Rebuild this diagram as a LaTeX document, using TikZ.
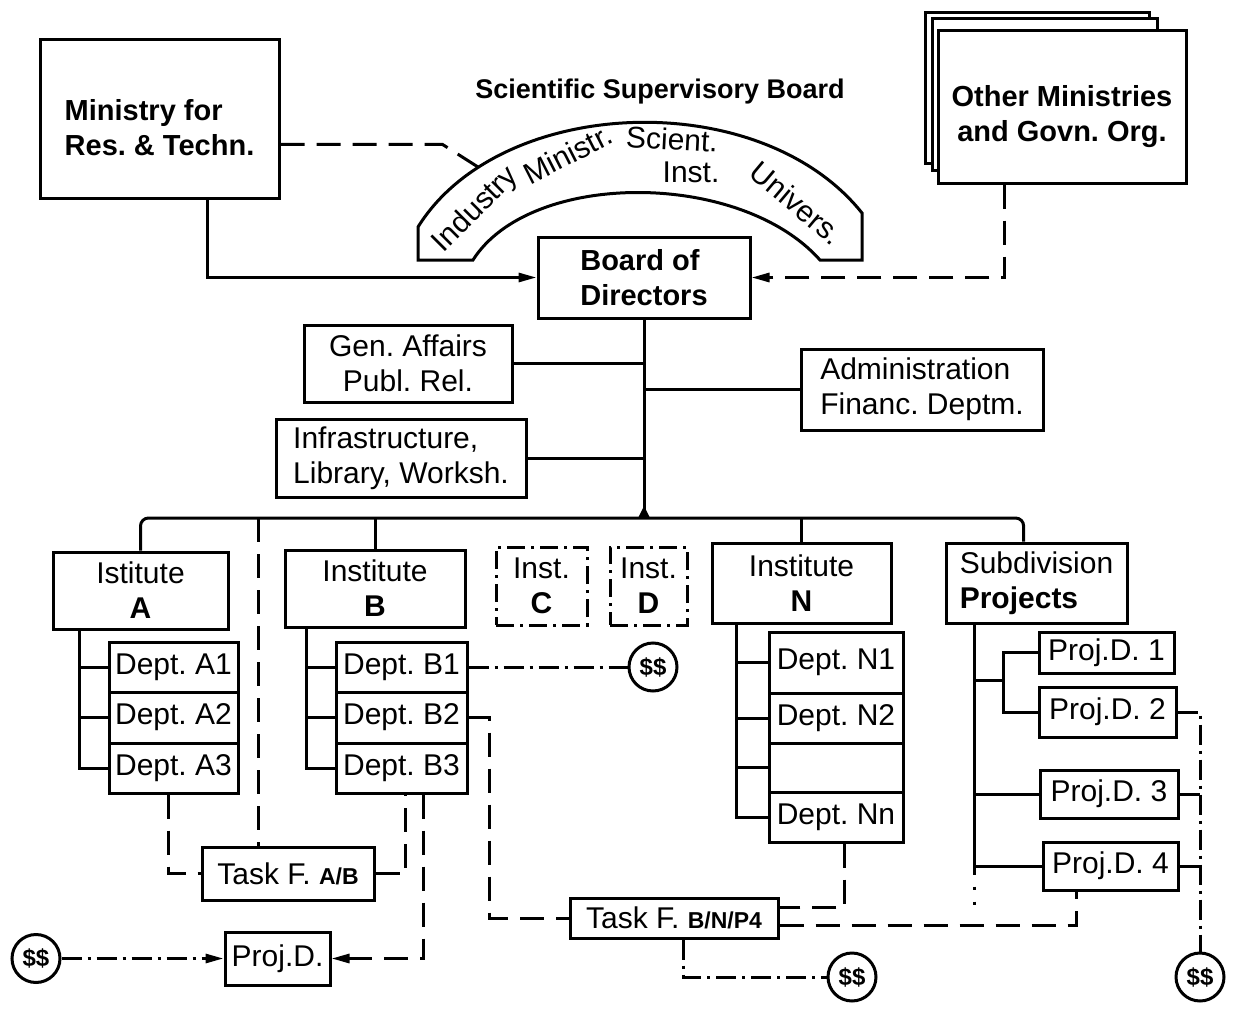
\documentclass[tikz,border=0pt]{standalone}
\usepackage{fontspec}
\setmainfont{Liberation Sans}
\usetikzlibrary{calc,arrows.meta}
\newcommand{\nf}{\fontsize{15}{17.5}\selectfont\frenchspacing}
\newcommand{\bnf}{\fontsize{14.5}{17.5}\selectfont\bfseries\frenchspacing}
\newcommand{\sbf}[1]{{\fontsize{11.5}{12}\selectfont\bfseries #1}}

\begin{document}
\begin{tikzpicture}[x=0.5pt,y=-0.5pt,line width=1.5pt,
	org/.style={draw,inner sep=0pt,align=center,font=\nf},
	ext/.style={org,dash pattern=on 9pt off 3pt on 1.5pt off 3pt},
	money/.style={draw,circle,inner sep=0pt,minimum size=24pt,font=\fontsize{12}{12}\selectfont\bfseries},
	arch/.style={font=\nf,inner sep=0pt},
	task/.style={dash pattern=on 12pt off 6pt},
	fund/.style={dash pattern=on 10pt off 3pt on 1.5pt off 3pt},
	arr/.style={-{Triangle[length=9pt,width=4.5pt]}}]
	
	\useasboundingbox (0,0) rectangle (1238,1017);
	
	%top
	\node[org,minimum width=119.5pt,minimum height=79.5pt] (min) at (159.5,118.5){};
	\node[align=left,font=\bnf,inner sep=0pt] (mintxt) at ([yshift=-4.5pt]min.center){Ministry for\\Res. \& Techn.};
	\draw[fill=white] (925,12) rectangle (1149,163);
	\draw[fill=white] (932,18) rectangle (1157,170);
	\node[org,fill=white,minimum width=124pt,minimum height=76.5pt] (oth) at (1062,106.5){};
	\node[align=center,font=\bnf,inner sep=0pt] (othtxt) at ([yshift=-5pt]oth.center){Other Ministries\\and Govn. Org.};
	\node[font=\fontsize{13.5}{15}\selectfont\bfseries] (ssb) at (660,92){Scientific Supervisory Board};
	
	%supervisory arch
	\draw (418,227) .. controls (500,95) and (760,85) .. (862,213) -- (862,260) -- (820,260) .. controls (740,170) and (530,170) .. (473,260) -- (418,260) -- cycle;
	\node[arch,rotate=45] (ind) at (476,210){Industry};
	\node[arch,rotate=27] (mis) at (568,154){Ministr.};
	\node[arch,rotate=-3] (sci) at (672,139){Scient.};
	\node[arch] (ins) at (691,172){Inst.};
	\node[arch,rotate=-40] (uni) at (797,203){Univers.};
	\coordinate (archL) at (478,167);
	
	\node[org,align=left,font=\bnf,minimum width=106pt,minimum height=40.5pt] (bod) at (644,277.5){Board of\\Directors};
	
	%staff
	\node[org,minimum width=104pt,minimum height=38.5pt] (gen) at (408,363.5){Gen. Affairs\\Publ. Rel.};
	\node[org,align=left,minimum width=125pt,minimum height=39pt] (inf) at (401,458){Infrastructure,\\Library, Worksh.};
	\node[org,align=left,minimum width=121pt,minimum height=40.5pt] (adm) at (922,389.5){Administration\\Financ. Deptm.};
	
	%institutes
	\node[org,minimum width=87.5pt,minimum height=38.5pt] (insA) at (140.5,590.5){Istitute\\\textbf{A}};
	\node[org,minimum width=90pt,minimum height=38.5pt] (insB) at (375,588.5){Institute\\\textbf{B}};
	\node[ext,minimum width=45.5pt,minimum height=39pt] (insC) at (541.5,586){Inst.\\\textbf{C}};
	\node[ext,minimum width=38.5pt,minimum height=39pt] (insD) at (648.5,586){Inst.\\\textbf{D}};
	\node[org,minimum width=89.5pt,minimum height=40pt] (insN) at (801.5,583){Institute\\\textbf{N}};
	\node[org,align=left,minimum width=90.5pt,minimum height=40pt] (sub) at (1036.5,583){Subdivision\\\textbf{Projects}};
	
	%departments
	\node[org,minimum width=64.5pt,minimum height=25pt] (a1) at (173.5,667){Dept. A1};
	\node[org,minimum width=64.5pt,minimum height=25.5pt] (a2) at (173.5,717.5){Dept. A2};
	\node[org,minimum width=64.5pt,minimum height=25pt] (a3) at (173.5,768){Dept. A3};
	\node[org,minimum width=65.5pt,minimum height=25pt] (b1) at (401.5,667){Dept. B1};
	\node[org,minimum width=65.5pt,minimum height=25.5pt] (b2) at (401.5,717.5){Dept. B2};
	\node[org,minimum width=65.5pt,minimum height=25pt] (b3) at (401.5,768){Dept. B3};
	\node[org,minimum width=67pt,minimum height=30.5pt] (n1) at (836,662.5){Dept. N1};
	\node[org,minimum width=67pt,minimum height=25pt] (n2) at (836,718){Dept. N2};
	\node[org,minimum width=67pt,minimum height=24.5pt] (ne) at (836,767.5){};
	\node[org,minimum width=67pt,minimum height=25pt] (nn) at (836,817){Dept. Nn};
	\node[org,minimum width=67.5pt,minimum height=20.5pt] (p1) at (1106.5,652.5){Proj.D. 1};
	\node[org,minimum width=68.5pt,minimum height=25pt] (p2) at (1107.5,712){Proj.D. 2};
	\node[org,minimum width=69pt,minimum height=24pt] (p3) at (1109,794){Proj.D. 3};
	\node[org,minimum width=67.5pt,minimum height=24pt] (p4) at (1110.5,866){Proj.D. 4};
	
	%task forces and funds
	\node[org,minimum width=86pt,minimum height=26.5pt] (tfab) at (288,873.5){Task F. \sbf{A/B}};
	\node[org,minimum width=52.5pt,minimum height=26.5pt] (pdl) at (277.5,958.5){Proj.D.};
	\node[org,minimum width=104pt,minimum height=20pt] (tfbn) at (674,918){Task F. \sbf{B/N/P4}};
	\node[money] (d1) at (36,958.5){\$\$};
	\node[money] (d2) at (653,667){\$\$};
	\node[money] (d3) at (852,977){\$\$};
	\node[money] (d4) at (1200,977){\$\$};
	
	%edges
	\draw[arr] ($(min.south west)!0.7!(min.south east)$) |- (bod);
	\draw[task] ($(min.north east)!0.66!(min.south east)$) -- ++(162,0) -- (archL);
	\draw[task,arr] ($(oth.south west)!0.27!(oth.south east)$) |- (bod);
	
	\coordinate (bus) at (0,518);
	\draw (bod) -- (bod |- bus);
	\fill[shift={(bod |- bus)}] (-6,0) -- (0,-12) -- (6,0) -- cycle;
	\draw (gen) -- (gen -| bod);
	\draw (inf) -- (inf -| bod);
	\draw (adm) -- (adm -| bod);
	
	\coordinate (subtop) at ($(sub.north west)!0.43!(sub.north east)$);
	\draw[rounded corners=4pt] (insA) -- (insA |- bus) -- (subtop |- bus) -- (subtop);
	\draw (insB) -- (insB |- bus);
	\draw (insN) -- (insN |- bus);
	\coordinate (tfa) at ($(tfab.north west)!0.33!(tfab.north east)$);
	\draw[task] (tfa |- bus) -- (tfa);
	
	\coordinate (ta) at ($(insA.south west)+(28,0)$);
	\draw (ta) |- (a1);
	\draw (ta) |- (a2);
	\draw (ta) |- (a3);
	\coordinate (tb) at ($(insB.south west)+(23,0)$);
	\draw (tb) |- (b1);
	\draw (tb) |- (b2);
	\draw (tb) |- (b3);
	\coordinate (tn) at ($(insN.south west)+(26,0)$);
	\draw (tn) |- (n1);
	\draw (tn) |- (n2);
	\draw (tn) |- (ne);
	\draw (tn) |- (nn);
	\coordinate (ts) at ($(sub.south west)+(30,0)$);
	\draw (ts) -- ++(0,247) coordinate (tsend);
	\draw[dash pattern=on 1.5pt off 6pt] (tsend) -- ++(0,33);
	\coordinate (pk) at (1003,680);
	\draw (ts |- pk) -- (pk);
	\draw (p1) -| (pk) |- (p2);
	\draw (ts |- p3) -- (p3);
	\draw (ts |- p4) -- (p4);
	
	\draw[task] ($(a3.south west)+(61,0)$) |- (tfab);
	\draw[task] (tfab) -| ($(b3.south west)+(71,0)$);
	\draw[task,arr] ($(b3.south west)+(89,0)$) |- (pdl);
	\draw[fund,arr] (d1) -- (pdl);
	\draw[fund] (b1) -- (d2);
	\draw[task] (b2.east) -- ++(21,0) |- (tfbn);
	\draw[task] ($(nn.south west)+(77,0)$) |- ($(tfbn.north east)!0.25!(tfbn.south east)$);
	\draw[task] ($(tfbn.north east)!0.68!(tfbn.south east)$) -| ($(p4.south west)+(35,0)$);
	\draw[fund] ($(tfbn.south west)+(115,0)$) |- (d3);
	\draw[fund] (p2) -| (d4);
	\draw[fund] (p3) -- (p3 -| d4);
	\draw[fund] (p4) -- (p4 -| d4);
	
\end{tikzpicture}
\end{document}
